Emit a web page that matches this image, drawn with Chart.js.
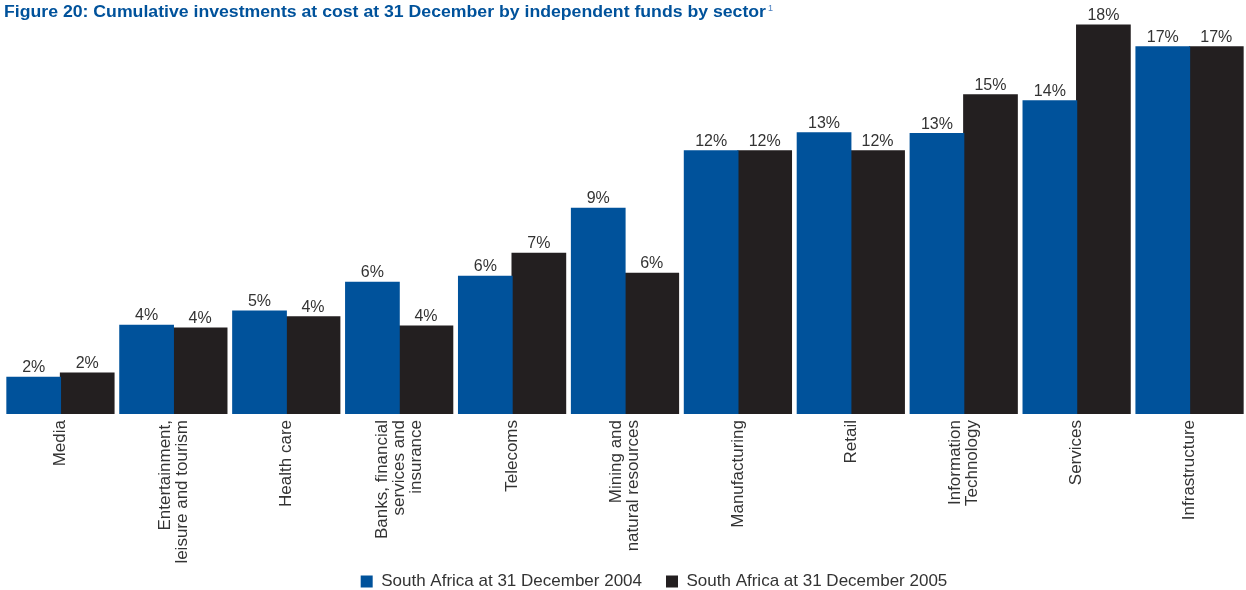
<!DOCTYPE html>
<html>
<head>
<meta charset="utf-8">
<title>Investments by sector</title>
<script src="https://cdn.jsdelivr.net/npm/chart.js@4/dist/chart.umd.min.js"></script>
<style>
  html, body { margin: 0; padding: 0; background: #fff; overflow: hidden; }
  #wrap { position: relative; width: 1246px; height: 590px; }
</style>
</head>
<body>
<div id="wrap"><canvas id="chart"></canvas></div>
<script>
// --- Data ---
const sectors = [
    ['Media'],
    ['Entertainment,', 'leisure and tourism'],
    ['Health care'],
    ['Banks, financial', 'services and', 'insurance'],
    ['Telecoms'],
    ['Mining and', 'natural resources'],
    ['Manufacturing'],
    ['Retail'],
    ['Information', 'Technology'],
    ['Services'],
    ['Infrastructure']
];
const sa2004 = [1.69, 4.09, 4.74, 6.07, 6.35, 9.48, 12.14, 12.97, 12.93, 14.44, 16.93];
const sa2005 = [1.89, 3.96, 4.48, 4.05, 7.41, 6.49, 12.14, 12.14, 14.72, 17.94, 16.93];
const seriesNames = ['South Africa at 31 December 2004', 'South Africa at 31 December 2005'];
const titleText = 'Figure 20: Cumulative investments at cost at 31 December by independent funds by sector';

const BLUE = '#00529b';
const BLACK = '#231f20';
const TEXT = '#333333';
const FONT = '"Liberation Sans", Arial, Helvetica, sans-serif';

// --- Plugins ---
// percentage above each bar
const valueLabels = {
    id: 'valueLabels',
    afterDatasetsDraw(chart) {
        const ctx = chart.ctx;
        ctx.save();
        ctx.font = '16px ' + FONT;
        ctx.fillStyle = TEXT;
        ctx.textAlign = 'center';
        ctx.textBaseline = 'alphabetic';
        chart.data.datasets.forEach((ds, di) => {
            chart.getDatasetMeta(di).data.forEach((bar, i) => {
                ctx.fillText(Math.round(ds.data[i]) + '%', bar.x, bar.y - 5);
            });
        });
        ctx.restore();
    }
};

// vertical category names, multi-line blocks centred on each group
const sectorLabels = {
    id: 'sectorLabels',
    afterDraw(chart) {
        const ctx = chart.ctx;
        const xs = chart.scales.x;
        const top = chart.chartArea.bottom + 6;
        const lineGap = 17;
        ctx.save();
        ctx.font = '17px ' + FONT;
        ctx.fillStyle = TEXT;
        ctx.textAlign = 'right';
        ctx.textBaseline = 'middle';
        sectors.forEach((lines, i) => {
            const x = xs.getPixelForValue(i);
            ctx.save();
            ctx.translate(x, top);
            ctx.rotate(-Math.PI / 2);
            lines.forEach((line, j) => {
                ctx.fillText(line, 0, (j - (lines.length - 1) / 2) * lineGap);
            });
            ctx.restore();
        });
        ctx.restore();
    }
};

// heading with footnote marker, stretched to the same run as the printed figure title
const heading = {
    id: 'heading',
    afterDraw(chart) {
        const ctx = chart.ctx;
        const runWidth = 762;
        ctx.save();
        ctx.font = 'bold 16px ' + FONT;
        ctx.fillStyle = BLUE;
        ctx.textAlign = 'left';
        ctx.textBaseline = 'alphabetic';
        const w = ctx.measureText(titleText).width;
        ctx.save();
        ctx.translate(4, 17);
        ctx.scale(runWidth / w, 1);
        ctx.fillText(titleText, 0, 0);
        ctx.restore();
        ctx.font = '9px ' + FONT;
        ctx.fillStyle = '#4a7fbf';
        ctx.fillText('1', 4 + runWidth + 2, 11);
        ctx.restore();
    }
};

// move the legend row right of centre and a little lower
const legendShift = {
    id: 'legendShift',
    afterLayout(chart) {
        const lg = chart.legend;
        if (lg) {
            lg.left += 29; lg.right += 29;
            lg.top += 12; lg.bottom += 12;
        }
    }
};

// --- Chart ---
new Chart(document.getElementById('chart').getContext('2d'), {
    type: 'bar',
    data: {
        labels: sectors,
        datasets: [
            { label: seriesNames[0], data: sa2004, backgroundColor: BLUE },
            { label: seriesNames[1], data: sa2005, backgroundColor: BLACK }
        ]
    },
    options: {
        responsive: true,
        maintainAspectRatio: false,
        animation: false,
        layout: { padding: { top: 2, left: 4, right: 0, bottom: 2 } },
        datasets: { bar: { categoryPercentage: 0.948, barPercentage: 1.0, borderWidth: 0, inflateAmount: 0.6 } },
        scales: {
            x: {
                grid: { display: false },
                border: { display: false },
                ticks: { display: false },
                afterFit: s => { s.height = 123; }
            },
            y: { display: false, min: 0, max: 19 }
        },
        plugins: {
            legend: {
                position: 'bottom',
                labels: {
                    boxWidth: 12,
                    boxHeight: 12,
                    padding: 24,
                    color: TEXT,
                    font: { size: 17, family: FONT }
                }
            },
            tooltip: { enabled: false },
            title: { display: false }
        }
    },
    plugins: [valueLabels, sectorLabels, heading, legendShift]
});
</script>
</body>
</html>
